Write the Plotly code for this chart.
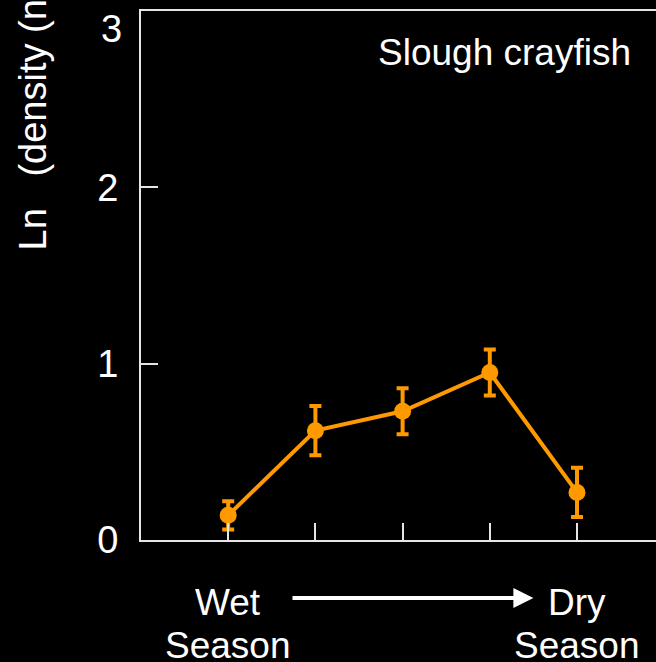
import plotly.graph_objects as go

# data
sample_idx = [1, 2, 3, 4, 5]
ln_density = [0.14, 0.62, 0.73, 0.95, 0.27]
err = [0.08, 0.14, 0.13, 0.13, 0.14]
y_ticks = [0, 1, 2, 3]
y_ticklabels = ["0", "1", "2", "3"]
species = "Slough crayfish"
y_title = "Ln\u00a0\u00a0 (density (no. m<sup>-2</sup>) + 1)"
start_label = ["Wet", "Season"]
end_label = ["Dry", "Season"]

ORANGE = "#FF9900"
AXIS = "#e6e6e6"
FONT = "Liberation Sans, Arial, sans-serif"
FS = 37

fig = go.Figure()
fig.add_trace(go.Scatter(
    x=sample_idx, y=ln_density,
    mode="lines+markers",
    line=dict(color=ORANGE, width=4),
    marker=dict(color=ORANGE, size=17),
    error_y=dict(type="data", array=err, visible=True, color=ORANGE,
                 thickness=4, width=6),
    showlegend=False,
))

W, H = 656, 662
ml, mr, mt, mb = 141, 0, 11, 122
pw, ph = W - ml - mr, H - mt - mb
unit_x = 87.2
x_max = pw / unit_x

fig.update_layout(
    width=W, height=H,
    margin=dict(l=ml, r=mr, t=mt, b=mb),
    paper_bgcolor="black", plot_bgcolor="black",
    font=dict(family=FONT, color="white", size=FS),
    xaxis=dict(range=[0, x_max], showgrid=False, zeroline=False,
               showline=True, linecolor=AXIS, linewidth=2, mirror=True,
               ticks="inside", ticklen=17, tickwidth=2, tickcolor=AXIS,
               tickvals=sample_idx, showticklabels=False),
    yaxis=dict(range=[0, 3], showgrid=False, zeroline=False,
               showline=True, linecolor=AXIS, linewidth=2,
               ticks="inside", ticklen=17, tickwidth=2, tickcolor=AXIS,
               tickvals=y_ticks, ticktext=y_ticklabels[:-1] + [" "],
               ticklabelstandoff=13,
               tickfont=dict(size=38, color="white")),
)

anns = []
# top tick label (pushed down inside the page)
anns.append(dict(x=0, xref="paper", y=y_ticks[-1], yref="y",
                 text=y_ticklabels[-1], showarrow=False,
                 xanchor="right", yanchor="middle", xshift=-17, yshift=-18,
                 font=dict(size=38)))
# species label
anns.append(dict(x=(633 - ml) / pw, xref="paper", y=(540 - 53) / ph,
                 yref="paper", text=species, showarrow=False,
                 xanchor="right", yanchor="middle", font=dict(size=FS)))
# y title
anns.append(dict(x=(30 - ml) / pw, xref="paper", y=(540 - 253) / ph, yref="paper",
                 text=y_title, textangle=-90, showarrow=False,
                 xanchor="center", yanchor="bottom", font=dict(size=38)))
# season labels
for xi, lab in ((sample_idx[0], start_label), (sample_idx[-1], end_label)):
    for k, word in enumerate(lab):
        anns.append(dict(x=xi, xref="x", y=(540 - (602 + 43 * k)) / ph, yref="paper",
                         text=word, showarrow=False, xanchor="center",
                         yanchor="middle", font=dict(size=FS)))
# arrow
anns.append(dict(x=4.5, xref="x", y=(540 - 598) / ph, yref="paper",
                 ax=1.72, axref="x", ay=0, ayref="pixel",
                 text=" ", font=dict(size=1), showarrow=True, arrowhead=2,
                 arrowsize=1, arrowwidth=4, arrowcolor="white"))
fig.update_layout(annotations=anns)

fig.write_html(
    "out.html",
    config={"displayModeBar": False},
    post_script="document.body.style.margin='0';document.body.style.background='black';",
)
